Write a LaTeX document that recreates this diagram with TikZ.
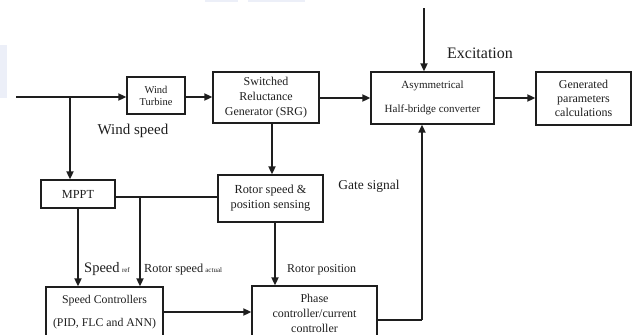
\documentclass[tikz,border=0pt]{standalone}
\usepackage{fontspec}
\setmainfont{Liberation Serif}
\usetikzlibrary{arrows.meta}
\definecolor{wm}{RGB}{236,239,248}
\definecolor{ink}{RGB}{30,30,30}
\tikzset{
  box/.style={draw=ink, line width=1.3pt, rectangle, inner sep=0pt, align=center, text=ink},
  arr/.style={draw=ink, line width=1.8pt, -{Triangle[length=8pt,width=7pt]}},
  ln/.style={draw=ink, line width=1.8pt},
  thin/.style={draw=ink, line width=1.1pt},
  lbl/.style={inner sep=0pt, text=ink},
}
\begin{document}
\begin{tikzpicture}[x=1pt,y=-1pt]
\useasboundingbox (0,0) rectangle (638,335);
\clip (0,0) rectangle (638,335);
% faint watermark traces
\fill[wm] (0,45) rectangle (7,98);
\fill[wm] (205,0) rectangle (238,1.5);
\fill[wm] (248,0) rectangle (305,1.5);
% boxes
\node[box, minimum width=58pt, minimum height=37pt, font=\fontsize{10.5}{12}\selectfont] (wt) at (156,95.5) {Wind\\Turbine};
\node[box, minimum width=106pt, minimum height=51pt, font=\fontsize{12}{15}\selectfont] (srg) at (266,97.5) {Switched\\Reluctance\\Generator (SRG)};
\node[box, minimum width=123pt, minimum height=52pt, font=\fontsize{11}{24}\selectfont] (asym) at (432.5,98) {Asymmetrical\\Half-bridge converter};
\node[box, minimum width=95pt, minimum height=53pt, font=\fontsize{12}{14}\selectfont] (gen) at (583.5,98.5) {Generated\\parameters\\calculations};
\node[box, minimum width=74pt, minimum height=28pt, font=\fontsize{12.3}{15}\selectfont] (mppt) at (78,194) {MPPT};
\node[box, minimum width=105pt, minimum height=47pt, font=\fontsize{12.3}{15}\selectfont] (rs) at (270.5,198.5) {Rotor speed \&\\position sensing};
\node[box, minimum width=117pt, minimum height=50pt, font=\fontsize{11.8}{23}\selectfont] (sc) at (104.5,312) {Speed Controllers\\(PID, FLC and ANN)};
\node[box, minimum width=125pt, minimum height=54pt, font=\fontsize{12}{15}\selectfont] (pc) at (314.5,313) {Phase\\controller/current\\controller};
% coordinates
\coordinate (in) at (16,97);
\coordinate (b1) at (70,97);
\coordinate (exc) at (424,8);
\coordinate (srgd) at (272,123);
\coordinate (rsd) at (275,222);
\coordinate (m1) at (115,197);
\coordinate (b2) at (140,197);
\coordinate (mpd) at (78,208);
\coordinate (scr) at (163,312);
\coordinate (pcr) at (377,320);
\coordinate (cr) at (422,320);
% connectors
\draw[arr] (in) -- (wt.west |- in);
\draw[arr] (b1) -- (b1 |- mppt.north);
\draw[arr] (wt.east |- in) -- (srg.west |- in);
\draw[arr] (srg.east |- 0,98) -- (asym.west |- 0,98);
\draw[arr] (asym.east |- 0,98) -- (gen.west |- 0,98);
\draw[arr] (exc) -- (exc |- asym.north);
\draw[arr] (srgd) -- (srgd |- rs.north);
\draw[thin] (m1) -- (rs.west |- m1);
\draw[arr] (b2) -- (b2 |- sc.north);
\draw[arr] (mpd) -- (mpd |- sc.north);
\draw[arr] (rsd) -- (rsd |- pc.north);
\draw[arr] (scr) -- (pc.west |- scr);
\draw[ln] (pcr) -- (cr);
\draw[arr] (cr) -- (cr |- asym.south);
% labels
\node[lbl, font=\fontsize{15}{18}\selectfont] (ws) at (133,131) {Wind speed};
\node[lbl, font=\fontsize{16}{19}\selectfont] (ex) at (480,53) {Excitation};
\node[lbl, font=\fontsize{13.5}{16}\selectfont] (gs) at (369,186) {Gate signal};
\node[lbl, anchor=base west, font=\fontsize{14.5}{17}\selectfont] (spref) at (84,272) {Speed\,{\fontsize{7}{8}\selectfont ref}};
\node[lbl, anchor=base west, font=\fontsize{12.3}{15}\selectfont] (rsa) at (144,272) {Rotor speed\,{\fontsize{7}{8}\selectfont actual}};
\node[lbl, anchor=base west, font=\fontsize{12}{15}\selectfont] (rp) at (287,272) {Rotor position};
\end{tikzpicture}
\end{document}
